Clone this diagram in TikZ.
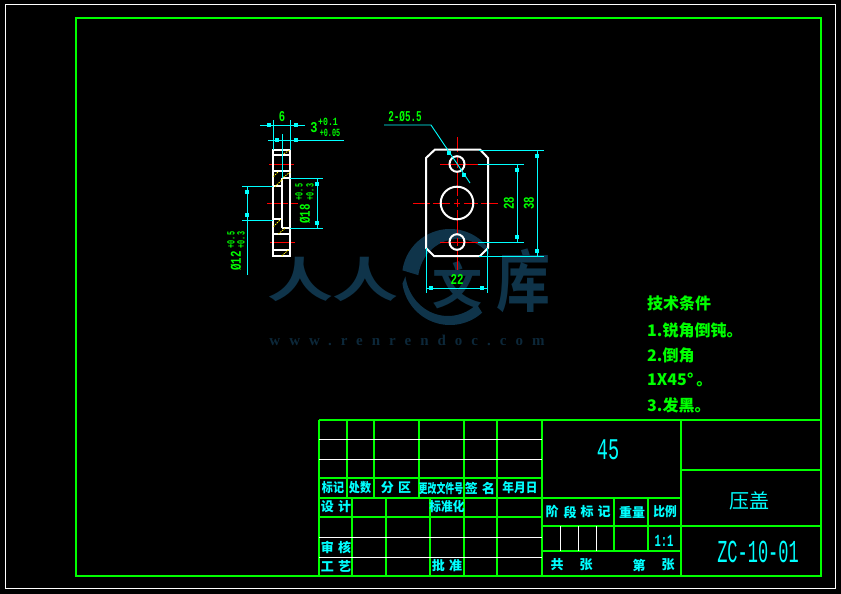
\documentclass[tikz,border=0pt]{standalone}
\usepackage{fontspec}
\usepackage{graphicx}
\setmainfont{Liberation Mono}
\newfontfamily\cjk{Noto Sans CJK SC}
\newfontfamily\cjkb{Noto Sans CJK SC Bold}
\newfontfamily\urlf[LetterSpace=60]{Liberation Serif}
\definecolor{cgreen}{RGB}{0,255,0}
\definecolor{ccyan}{RGB}{0,255,255}
\definecolor{wm}{RGB}{15,52,74}
\definecolor{wmt}{RGB}{12,40,58}
\newcommand{\nar}[2]{\scalebox{#1}[1]{#2}}
\tikzset{
  gline/.style={draw=cgreen,line width=1.8pt},
  wline/.style={draw=white,line width=1pt},
  dimline/.style={draw=ccyan,line width=0.9pt},
  redline/.style={draw=red,line width=0.9pt},
  partline/.style={draw=white,line width=2pt},
  hatchline/.style={draw=yellow,line width=0.8pt,dash pattern=on 1.5pt off 1pt},
  lab/.style={inner sep=0pt,text=ccyan,font=\cjk\bfseries\fontsize{13}{13}\selectfont},
  dimtxt/.style={inner sep=0pt,text=cgreen,font=\bfseries\fontsize{15}{15}\selectfont},
  dimsm/.style={inner sep=0pt,text=cgreen,font=\bfseries\fontsize{11}{11}\selectfont},
  tech/.style={inner sep=0pt,anchor=west,text=cgreen,font=\cjk\bfseries\fontsize{16}{16}\selectfont},
  wmark/.style={inner sep=0pt,text=wm,font=\cjkb\fontsize{66}{66}\selectfont},
}
\newcommand{\tick}[2]{\fill[ccyan] (#1-1.8,#2-1.8) rectangle (#1+1.8,#2+1.8);}
\begin{document}
\begin{tikzpicture}[x=1pt,y=-1pt]
\useasboundingbox (0,0) rectangle (841,594);
\fill[black] (0,0) rectangle (841,594);
% watermark
\fill[wm] plot[domain=-38:-172,samples=50] ({450+48*cos(\x)},{277+48*sin(\x)})
  -- plot[domain=-172:-38,samples=50] ({458+40*cos(\x)},{281+42*sin(\x)}) -- cycle;
\fill[wm] plot[domain=172:48,samples=50] ({450+48*cos(\x)},{277+48*sin(\x)})
  -- plot[domain=48:172,samples=50] ({448+43*cos(\x)},{270+46*sin(\x)}) -- cycle;
\node[wmark] (wa) at (300,279) {\scalebox{1}[.72]{人}};
\node[wmark] (wb) at (365,279) {\scalebox{1}[.72]{人}};
\node[wmark,font=\cjkb\fontsize{50}{50}\selectfont] (wc) at (457,285) {文};
\node[wmark,font=\cjkb\fontsize{54}{54}\selectfont] (wd) at (523,281) {\scalebox{1}[1.25]{库}};
\node[inner sep=0pt,text=wmt,font=\urlf\bfseries\fontsize{15}{15}\selectfont] (we) at (407,340) {www.renrendoc.com};
% frames
\draw[draw=white,line width=1pt] (5,5) rectangle (835,588);
\draw[gline] (76,18) rectangle (821,576);
% title block, green
\draw[gline] (319,420) -- (821,420);
\draw[gline] (319,420) -- (319,576);
\foreach \x in {347,374,419,464,497} \draw[gline] (\x,420) -- (\x,498);
\draw[gline] (542,420) -- (542,576);
\draw[gline] (681,420) -- (681,576);
\draw[gline] (319,478) -- (542,478);
\draw[gline] (319,498) -- (681,498);
\draw[gline] (319,517) -- (542,517);
\foreach \x in {352,386,430,464,497} \draw[gline] (\x,498) -- (\x,576);
\draw[gline] (681,470) -- (821,470);
\draw[gline] (542,526) -- (821,526);
\draw[gline] (542,551) -- (681,551);
\draw[gline] (614,498) -- (614,551);
\draw[gline] (648,498) -- (648,551);
% title block, white
\foreach \y in {439,459,537,557} \draw[wline] (319,\y) -- (542,\y);
\foreach \x in {560,578,596} \draw[wline] (\x,526) -- (\x,551);
% title block texts
\foreach \x/\y/\t [count=\i] in {
  333/488/\nar{.85}{标记},360/488/\nar{.85}{处数},396/488/分\,\,区,441/488/\nar{.68}{更改文件号},480/488/签\,\,名,520/488/\nar{.9}{年月日},
  336/507/设\,\,计,447/507/\nar{.9}{标准化},336/547/审\,\,核,336/566/工\,\,艺,447/566/批\,\,准,
  552/512/阶,570/512/段,587/512/标,604/512/记,632/512/重量,665/512/\nar{.9}{比例},
  557/565/共,586/565/张,639/565/第,668/565/张}
  \node[lab] (L\i) at (\x,\y) {\t};
\node[inner sep=0pt,text=ccyan,font=\bfseries\fontsize{17}{17}\selectfont] (ratio) at (664,541) {\nar{.62}{1:1}};
\node[inner sep=0pt,text=ccyan,font=\fontsize{30}{30}\selectfont] (mat) at (608,450) {\nar{.62}{45}};
\node[inner sep=0pt,text=ccyan,font=\cjk\fontsize{20}{20}\selectfont] (name) at (749,501) {压盖};
\node[inner sep=0pt,text=ccyan,font=\fontsize{32}{32}\selectfont] (code) at (758,552) {\nar{.53}{ZC-10-01}};
% technical notes
\node[tech] (n1) at (647,303) {技术条件};
\node[tech] (n2) at (647,330) {1.锐角倒钝。};
\node[tech] (n3) at (647,355) {2.倒角};
\node[tech] (n4) at (647,380) {1X45°\,。};
\node[tech] (n5) at (647,405) {3.发黑。};
% side view
\draw[redline] (269,164) -- (294,164);
\draw[redline] (267,203) -- (288,203) (290,203) -- (298,203);
\draw[redline] (270,242) -- (295,242);
\draw[partline] (273,150) rectangle (290,256);
\foreach \y in {155,171,234,250} \draw[partline] (273,\y) -- (290,\y);
\draw[partline] (282,178) -- (290,178);
\draw[partline] (282,228) -- (290,228);
\draw[partline] (282,178) -- (282,228);
\draw[partline] (273,186) -- (282,186);
\draw[partline] (273,219) -- (282,219);
\foreach \a/\b/\c/\d in {281.7/155/290/150,273.3/176.7/278.3/171.7,283.3/177.3/290.7/171.7,275/186.7/282.7/179,273.3/226.7/280.7/219.3,278.3/234/285/228.3,281.7/256/288.3/250}
  \draw[hatchline] (\a,\b) -- (\c,\d);
\draw[dimline] (260,125) -- (305,125);
\draw[dimline] (273,120) -- (273,150);
\draw[dimline] (290,120) -- (290,150);
\tick{269}{125}\tick{296}{125}
\draw[dimline] (268,140) -- (344,140);
\draw[dimline] (282,134) -- (282,178);
\tick{277}{140}\tick{296}{140}
\draw[dimline] (290,178) -- (323,178);
\draw[dimline] (290,228) -- (323,228);
\draw[dimline] (317,179) -- (317,228);
\tick{317}{184}\tick{317}{223}
\draw[dimline] (242,186) -- (273,186);
\draw[dimline] (242,220) -- (273,220);
\draw[dimline] (247,186) -- (247,275);
\tick{247}{192}\tick{247}{215}
\node[dimtxt] (d6) at (282,117) {\nar{.7}{6}};
\node[dimtxt] (d3) at (314,128) {\nar{.8}{3}};
\node[dimsm] (d3a) at (328,122) {\nar{.75}{+0.1}};
\node[dimsm] (d3b) at (330,133) {\nar{.62}{+0.05}};
\node[dimtxt,rotate=90] (d18) at (305,214) {\nar{.72}{Ø18}};
\node[dimsm,rotate=90] (d18a) at (299,192) {\nar{.62}{+0.5}};
\node[dimsm,rotate=90] (d18b) at (310,192) {\nar{.62}{+0.3}};
\node[dimtxt,rotate=90] (d12) at (236,261) {\nar{.72}{Ø12}};
\node[dimsm,rotate=90] (d12a) at (231,240) {\nar{.62}{+0.5}};
\node[dimsm,rotate=90] (d12b) at (241,240) {\nar{.62}{+0.3}};
% front view
\draw[redline] (457,137) -- (457,152) (457,156) -- (457,168) (457,172) -- (457,196) (457,199) -- (457,207) (457,210) -- (457,235) (457,238) -- (457,246) (457,249) -- (457,270);
\draw[redline] (413,203) -- (430,203) (433,203) -- (450,203) (454,203) -- (460,203) (464,203) -- (478,203) (481,203) -- (498,203);
\draw[redline] (440,164) -- (478,164);
\draw[redline] (440,242) -- (478,242);
\draw[partline] (435,149.5) -- (480,149.5) -- (488,158) -- (488,248) -- (480,256) -- (434,256) -- (426,248) -- (426,158) -- cycle;
\draw[partline] (457,203) circle (16.3);
\draw[partline] (457,164) ellipse (7.5 and 7.8);
\draw[partline] (457,242) ellipse (7.5 and 7.8);
\draw[dimline] (479,150.3) -- (544,150.3);
\draw[dimline] (478,164) -- (524,164);
\draw[dimline] (478,242) -- (524,242);
\draw[dimline] (479,256) -- (544,256);
\draw[dimline] (517,164) -- (517,242);
\tick{517}{170}\tick{517}{237}
\draw[dimline] (537,150.3) -- (537,256);
\tick{537}{156}\tick{537}{251}
\draw[dimline] (426,248) -- (426,293);
\draw[dimline] (487,248) -- (487,293);
\draw[dimline] (426,288) -- (487,288);
\tick{431}{288}\tick{482}{288}
\draw[dimline] (384,125) -- (431,125) -- (470,183);
\tick{449}{153}\tick{464}{175}
\node[dimtxt] (dlead) at (405,117) {\nar{.62}{2-Ø5.5}};
\node[dimtxt,rotate=90] (d28) at (509,203) {\nar{.72}{28}};
\node[dimtxt,rotate=90] (d38) at (529,203) {\nar{.72}{38}};
\node[dimtxt] (d22) at (457,279) {\nar{.72}{22}};
\end{tikzpicture}
\end{document}
